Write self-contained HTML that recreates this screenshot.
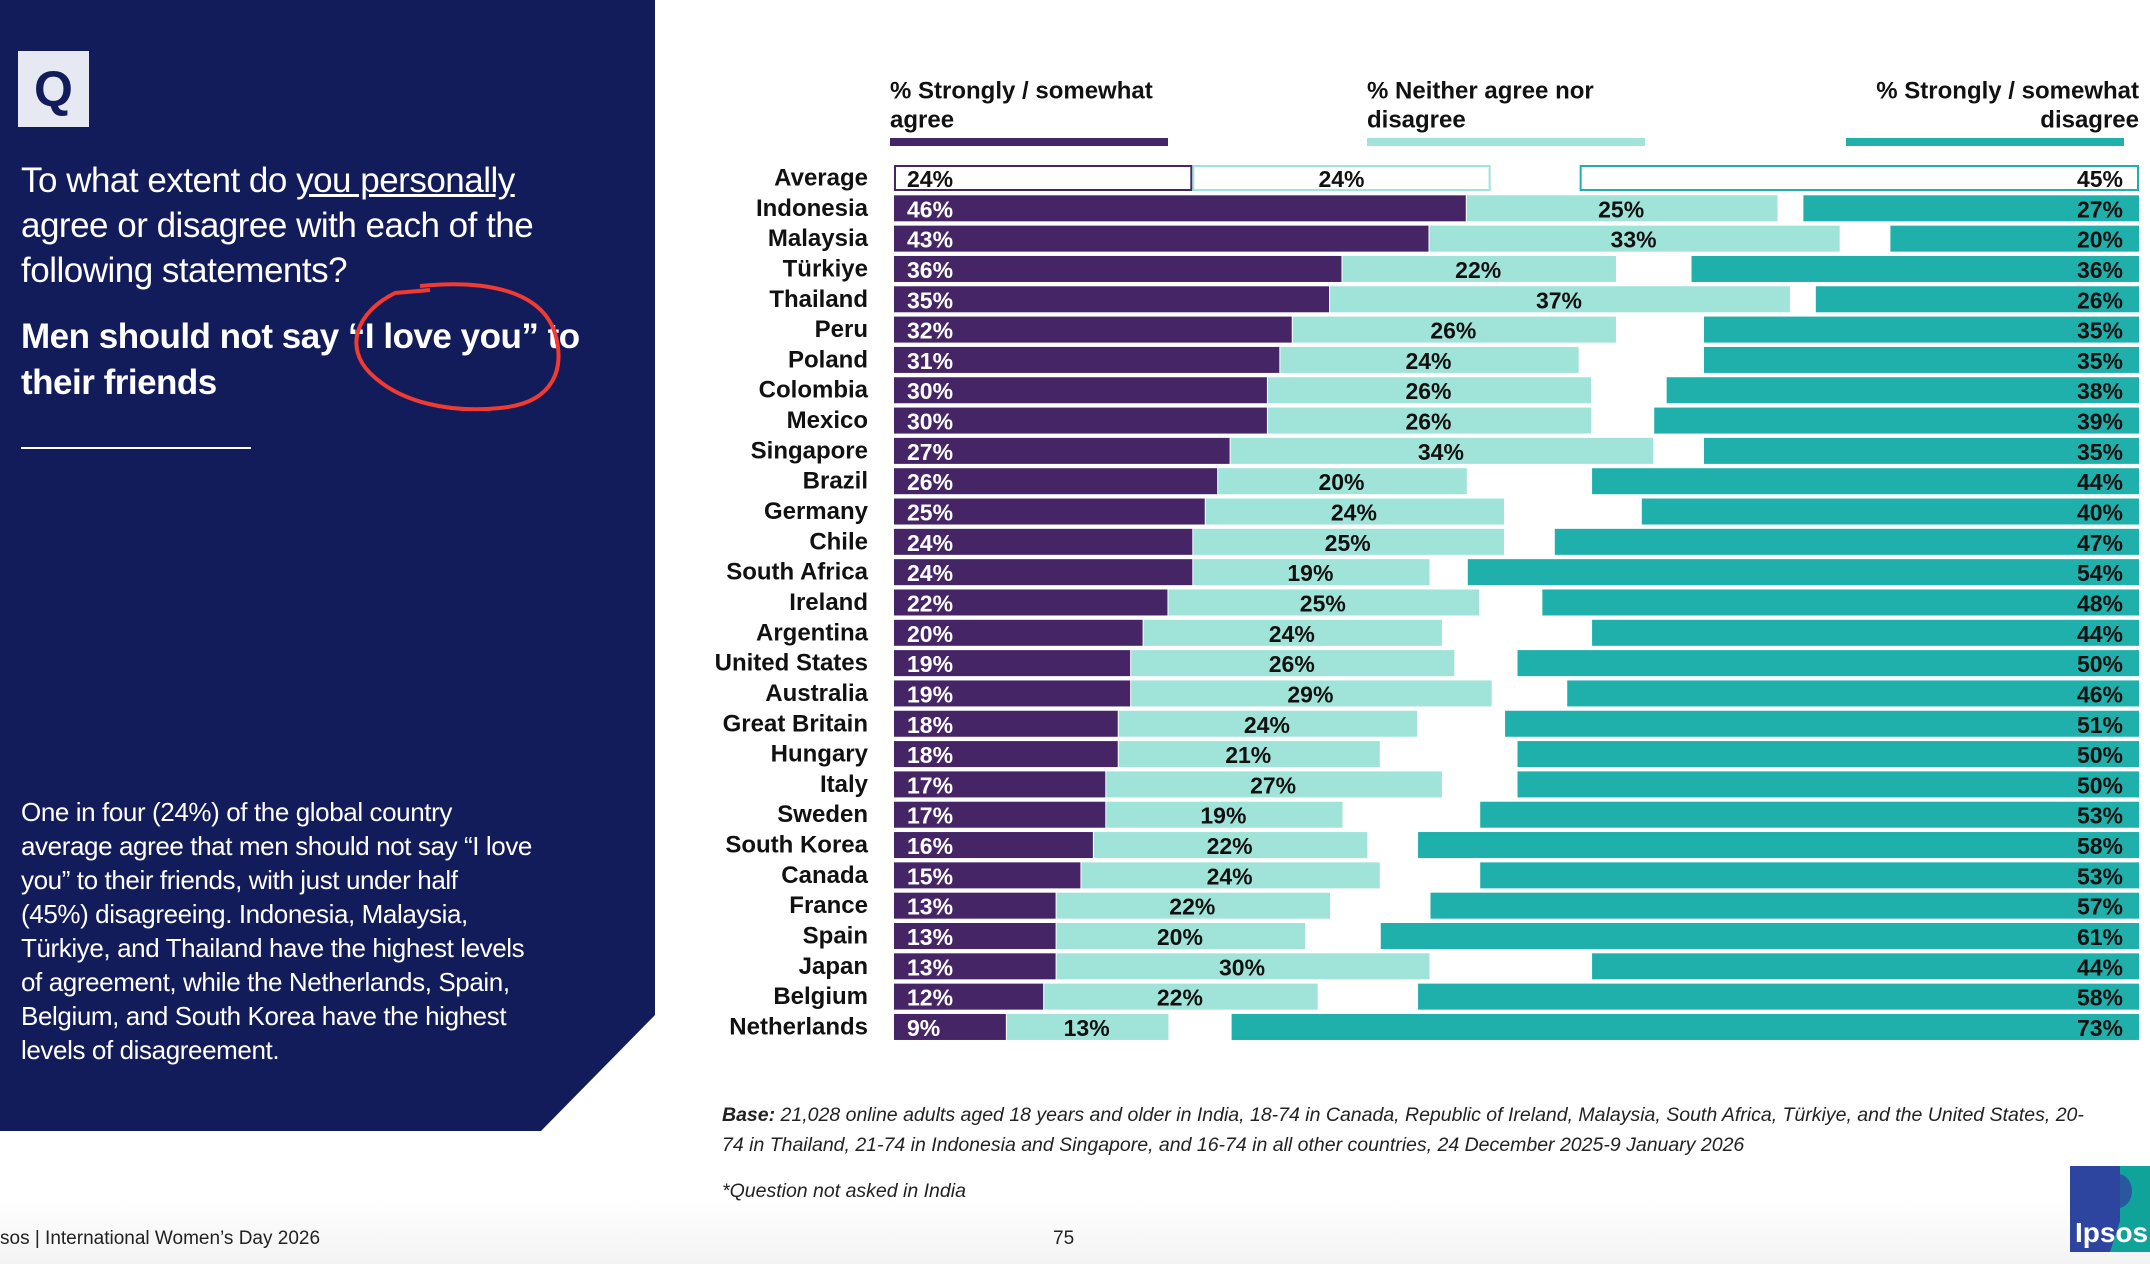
<!DOCTYPE html>
<html><head><meta charset="utf-8">
<style>
html,body{margin:0;padding:0;}
body{width:2150px;height:1264px;position:relative;overflow:hidden;background:#fff;font-family:"Liberation Sans",sans-serif;}
.abs{position:absolute;}
#panel{left:0;top:0;width:655px;height:1131px;background:#131c5a;clip-path:polygon(0 0,655px 0,655px 1015px,541px 1131px,0 1131px);}
.q{color:#fff;font-size:35px;line-height:45px;left:21px;top:158px;white-space:nowrap;letter-spacing:-0.5px;}
.stmt{color:#fff;font-size:35px;font-weight:bold;line-height:46px;left:21px;top:314px;white-space:nowrap;letter-spacing:-0.5px;}
.para{color:#fff;font-size:26px;line-height:34px;left:21px;top:795px;white-space:nowrap;letter-spacing:-0.4px;}
</style></head>
<body>
<div id="panel" class="abs"></div>
<div class="abs" style="left:18px;top:51px;width:71px;height:76px;background:#e6e9f2;color:#131c5a;font-weight:bold;font-size:50px;text-align:center;line-height:76px;">Q</div>
<div class="abs q">To what extent do <u>you personally</u><br>agree or disagree with each of the<br>following statements?</div>
<div class="abs stmt">Men should not say “I love you” to<br>their friends</div>
<svg class="abs" style="left:340px;top:278px" width="230" height="140"><path d="M80 8 C140 2 200 10 215 55 C225 90 215 125 160 130 C110 135 60 125 30 95 C5 70 15 35 55 15 L90 12" fill="none" stroke="#f03a32" stroke-width="4"/></svg>
<div class="abs" style="left:21px;top:447px;width:230px;height:2px;background:#fff"></div>
<div class="abs para">One in four (24%) of the global country<br>average agree that men should not say “I love<br>you” to their friends, with just under half<br>(45%) disagreeing. Indonesia, Malaysia,<br>Türkiye, and Thailand have the highest levels<br>of agreement, while the Netherlands, Spain,<br>Belgium, and South Korea have the highest<br>levels of disagreement.</div>
<div class="abs" style="left:0;top:1200px;width:2150px;height:64px;background:linear-gradient(#fff,#f3f3f3)"></div>
<div class="abs" style="left:0;top:1228px;font-size:19px;color:#222">sos | International Women’s Day 2026</div>
<div class="abs" style="left:1053px;top:1228px;font-size:19px;color:#222">75</div>
<div class="abs" style="left:722px;top:1100px;width:1440px;font-size:19.5px;line-height:30px;font-style:italic;color:#222;white-space:nowrap"><b>Base:</b> 21,028 online adults aged 18 years and older in India, 18-74 in Canada, Republic of Ireland, Malaysia, South Africa, Türkiye, and the United States, 20-<br>74 in Thailand, 21-74 in Indonesia and Singapore, and 16-74 in all other countries, 24 December 2025-9 January 2026</div>
<div class="abs" style="left:722px;top:1180px;font-size:19.5px;font-style:italic;color:#222">*Question not asked in India</div>
<svg class="abs" style="left:2070px;top:1166px" width="80" height="86"><rect width="80" height="86" fill="#2e45a0"/><polygon points="50,0 80,0 80,86 40,86 50,55" fill="#0fa39a"/><ellipse cx="48" cy="25" rx="14" ry="17" fill="#2e45a0" opacity="0.8"/><text x="5" y="76" font-size="28" font-weight="bold" fill="#fff" font-family="Liberation Sans,sans-serif">Ipsos</text></svg>

<svg id="chart" class="abs" style="left:0;top:0" width="2150" height="1264"></svg>
<script>
const countries=["Average","Indonesia","Malaysia","Türkiye","Thailand","Peru","Poland","Colombia","Mexico","Singapore","Brazil","Germany","Chile","South Africa","Ireland","Argentina","United States","Australia","Great Britain","Hungary","Italy","Sweden","South Korea","Canada","France","Spain","Japan","Belgium","Netherlands"];
const agree=[24,46,43,36,35,32,31,30,30,27,26,25,24,24,22,20,19,19,18,18,17,17,16,15,13,13,13,12,9];
const neither=[24,25,33,22,37,26,24,26,26,34,20,24,25,19,25,24,26,29,24,21,27,19,22,24,22,20,30,22,13];
const disagree=[45,27,20,36,26,35,35,38,39,35,44,40,47,54,48,44,50,46,51,50,50,53,58,53,57,61,44,58,73];
const seriesNames=["% Strongly / somewhat agree","% Neither agree nor disagree","% Strongly / somewhat disagree"];

const NS="http://www.w3.org/2000/svg";
const svg=document.getElementById('chart');
const x0=894, unit=12.43, xRight=2139, y0=178, rowStep=30.32, barH=26;
const C={a:"#452566",n:"#a0e3d8",d:"#1fb0ab"};
const F='"Liberation Sans",sans-serif';
function xs(v){return v*unit;}
function yc(i){return y0+i*rowStep;}
function el(tag,attrs){const e=document.createElementNS(NS,tag);for(const k in attrs)e.setAttribute(k,attrs[k]);svg.appendChild(e);return e;}
function txt(x,y,s,opts){const t=el('text',Object.assign({x:x,y:y,'font-family':F,'font-weight':'bold','dominant-baseline':'central'},opts));t.textContent=s;return t;}

const legX=[[890,"start",890],[1367,"start",1367],[2139,"end",1846]];
const legLines=[["% Strongly / somewhat","agree"],["% Neither agree nor","disagree"],["% Strongly / somewhat","disagree"]];
const legCol=[C.a,C.n,C.d];
for(let k=0;k<3;k++){
  const t1=txt(legX[k][0],91,legLines[k][0],{'font-size':24,'text-anchor':legX[k][1],fill:'#111'});
  
  
  const t2=txt(legX[k][0],120,legLines[k][1],{'font-size':24,'text-anchor':legX[k][1],fill:'#111'});
  
  
  const r=el('rect',{x:legX[k][2],y:138,width:278,height:8,fill:legCol[k]});
  
  
}

countries.forEach((c,i)=>{
  const y=yc(i), top=y-barH/2, isAvg=i===0;
  const lab=txt(868,y,c,{'font-size':24,'text-anchor':'end',fill:'#111'});
  
  
  const wa=xs(agree[i]), wn=xs(neither[i]), wd=xs(disagree[i]);
  const ra=el('rect',isAvg?{x:x0+1,y:top+1,width:wa-2,height:barH-2,fill:'#fff',stroke:C.a,'stroke-width':2}:{x:x0,y:top,width:wa,height:barH,fill:C.a});
  
  
  const rn=el('rect',isAvg?{x:x0+wa+1,y:top+1,width:wn-2,height:barH-2,fill:'#fff',stroke:C.n,'stroke-width':2}:{x:x0+wa+1,y:top,width:wn,height:barH,fill:C.n});
  
  
  const rd=el('rect',isAvg?{x:xRight-wd+1,y:top+1,width:wd-2,height:barH-2,fill:'#fff',stroke:C.d,'stroke-width':2}:{x:xRight-wd,y:top,width:wd,height:barH,fill:C.d});
  
  
  const la=txt(x0+13,y+1,agree[i]+"%",{'font-size':23,fill:isAvg?'#111':'#fff'});
  
  
  const ln=txt(x0+wa+wn/2,y+1,neither[i]+"%",{'font-size':23,'text-anchor':'middle',fill:'#111'});
  
  
  const ld=txt(xRight-16,y+1,disagree[i]+"%",{'font-size':23,'text-anchor':'end',fill:'#111'});
  
  
});
</script>
</body></html>
